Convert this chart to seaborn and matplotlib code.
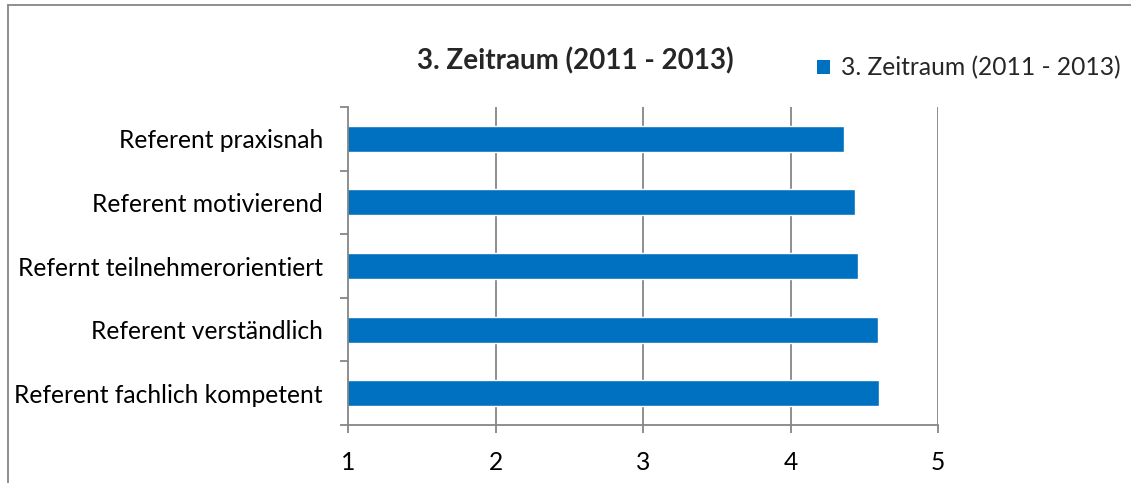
import matplotlib
matplotlib.use('Agg')
import matplotlib.pyplot as plt
from matplotlib.patches import Patch
from matplotlib.lines import Line2D
import seaborn as sns
import pandas as pd

# data (top to bottom as shown)
categories = ['Referent praxisnah', 'Referent motivierend', 'Refernt teilnehmerorientiert',
              'Referent verständlich', 'Referent fachlich kompetent']
values = [4.36, 4.44, 4.46, 4.59, 4.60]
series_name = '3. Zeitraum (2011 - 2013)'
xticks = [1, 2, 3, 4, 5]

bar_color = '#0070C0'
grid_color = '#868686'
fs = 17.7

sns.set_theme(style='white')
plt.rcParams['font.family'] = ['Lato', 'DejaVu Sans']

df = pd.DataFrame({'cat': categories, 'val': values})

fig = plt.figure(figsize=(11.31, 4.83), dpi=100)
ax = fig.add_axes([348 / 1131, 1 - 425 / 483, (938 - 348) / 1131, (425 - 107) / 483])

sns.barplot(data=df, x='val', y='cat', orient='h', color=bar_color, width=0.41,
            saturation=1, ax=ax)

ax.set_xlim(1, 5)
ax.set_ylim(4.5, -0.5)
ax.set_xticks(xticks)
ax.set_xlabel('')
ax.set_ylabel('')

# vertical grid lines
for x in xticks[1:]:
    ax.axvline(x, color=grid_color, lw=1.3, zorder=0)

for s in ['top', 'right']:
    ax.spines[s].set_visible(False)
for s in ['left', 'bottom']:
    ax.spines[s].set_color(grid_color)
    ax.spines[s].set_linewidth(1.3)

# category ticks between bars, labels centred
ax.set_yticks([i - 0.5 for i in range(len(categories) + 1)], minor=True)
ax.tick_params(axis='y', which='major', length=0, pad=18, labelsize=fs, labelcolor='black')
ax.tick_params(axis='y', which='minor', length=5.5, width=1.3, color=grid_color, direction='out', left=True)
ax.tick_params(axis='x', which='major', length=5.5, width=1.3, color=grid_color, direction='out',
               bottom=True, pad=13, labelsize=fs, labelcolor='black')

# title
fig.text(575 / 1131, 1 - 61 / 483, series_name, ha='center', va='center',
         fontsize=20, fontweight='bold')

# legend
handle = Patch(facecolor=bar_color, edgecolor='none')
fig.legend([handle], [series_name], loc='center left', bbox_to_anchor=(807 / 1131, 1 - 68 / 483),
           frameon=False, fontsize=fs, handlelength=0.55, handleheight=0.55, handletextpad=0.45,
           borderaxespad=0)

# outer chart border (top and left visible)
fig.add_artist(Line2D([7.5 / 1131, 7.5 / 1131], [0, 1 - 4.5 / 483], color=grid_color, lw=1.3))
fig.add_artist(Line2D([7.5 / 1131, 1], [1 - 4.5 / 483, 1 - 4.5 / 483], color=grid_color, lw=1.3))

fig.savefig('out.png', dpi=100)
